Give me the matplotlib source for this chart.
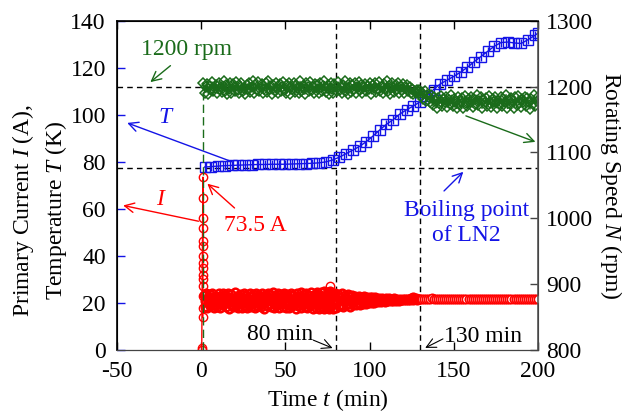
import numpy as np
import matplotlib
matplotlib.use("Agg")
import matplotlib.pyplot as plt

plt.rcParams["font.family"] = "serif"
plt.rcParams["font.serif"] = ["Liberation Serif", "DejaVu Serif"]
plt.rcParams["mathtext.fontset"] = "custom"
plt.rcParams["mathtext.rm"] = "Liberation Serif"
plt.rcParams["mathtext.it"] = "Liberation Serif:italic"
plt.rcParams["axes.unicode_minus"] = False
plt.rcParams["font.size"] = 17

RED = "#ff0000"
BLUE = "#1414e6"
GREEN = "#1a6b1a"

# Primary current I (A): start-up spike column, noisy band, settled part
I_start_t = [0.3, 0.3, 1.0, 1.0, 1.0, 1.0, 1.0, 1.0, 1.0, 1.0, 1.0, 1.0, 1.0, 1.0, 1.0, 1.0, 1.0]
I_start = [0.0, 0.8, 73.5, 64.5, 56.0, 52.0, 46.5, 44.0, 40.0, 37.0, 35.0, 32.0, 30.0, 27.0, 23.0, 18.0, 14.0]
I_band1 = [23.5, 18.2, 20.9, 24.1, 17.8, 22.0, 19.4, 23.8, 18.6, 21.5,
           24.3, 19.0, 22.6, 17.7, 20.3, 23.1, 18.4, 21.8, 24.0, 19.7,
           17.9, 22.9, 20.6, 24.4, 18.9, 21.2, 23.4, 18.1, 19.9, 22.4,
           24.2, 17.6, 21.0, 23.7, 19.2, 22.2, 18.3, 20.5, 24.5, 18.7,
           21.6, 23.0, 17.8, 20.1, 23.9, 19.5, 22.7, 18.0, 21.3, 24.1,
           18.5, 20.8, 23.3, 17.7, 22.1, 19.1, 24.3, 20.4, 18.2, 22.8,
           23.6, 19.8, 17.9, 21.7, 24.0, 18.8, 20.2, 23.2, 19.3, 22.5,
           18.1, 24.4, 21.1, 17.6, 23.5, 20.0, 22.3, 18.6, 24.2, 19.6,
           21.4, 23.8, 18.3, 20.7, 24.5, 17.8, 22.0, 19.0, 23.1, 18.9,
           22.6, 24.0, 17.7, 20.9, 23.6, 19.4, 21.9, 18.4, 24.3, 20.3,
           18.0, 22.8, 23.9, 19.2, 17.9, 21.5, 24.1, 18.7, 20.6, 23.4,
           19.8, 22.2, 17.6, 24.4, 20.1, 18.5, 23.0, 21.2, 24.6, 17.8,
           22.4, 19.5, 23.7, 18.2, 20.8, 24.2, 17.7, 21.8, 23.3, 19.1,
           18.8, 24.7, 20.4, 17.5, 22.9, 23.8, 19.7, 18.0, 24.5, 21.0,
           17.6, 23.5, 20.2, 24.8, 18.4, 22.1, 17.4, 24.9, 19.3, 23.1,
           17.7, 24.6, 21.4, 17.5, 25.0, 18.6, 24.2, 17.6, 23.8, 20.5]
I_band2 = [24.4, 17.9, 21.0, 23.6, 18.6, 22.4, 19.3, 24.0, 18.2, 20.7,
           23.2, 18.9, 21.9, 23.8, 19.5, 18.4, 22.8, 20.3, 23.4, 19.0,
           21.5, 23.0, 18.9, 22.1, 19.8, 23.1, 19.3, 20.9, 22.7, 19.6,
           22.9, 20.2, 19.5, 22.4, 21.1, 19.9, 22.6, 20.5, 19.8, 22.3,
           21.0, 20.1, 22.5, 20.6, 21.8, 20.2, 22.2, 21.3, 20.4, 22.0,
           20.8, 21.6, 20.5, 22.1, 21.0, 20.7, 21.9, 21.4, 20.8, 21.8,
           21.2, 20.9, 21.9, 21.3, 21.0, 21.7, 21.2, 20.9, 21.8, 21.4,
           21.1, 21.7, 21.3, 21.6, 21.2, 21.8, 21.4, 21.6, 21.3, 22.0,
           21.5, 22.3, 21.4, 21.7, 21.5, 21.9, 21.4, 21.8, 21.5, 21.7]
I_tail = [21.6, 21.8, 21.5, 21.7, 21.6, 21.9, 21.5, 21.7, 21.6, 21.8,
          21.5, 21.6, 21.7, 21.5, 21.8, 21.6, 21.7, 21.5, 21.6, 21.8,
          21.6, 21.5, 21.7, 21.6, 21.8, 21.5, 21.6, 21.7, 21.6, 21.5,
          21.7, 21.6, 21.6, 21.7, 21.6, 21.5, 21.8, 21.6, 21.7, 21.5,
          21.6, 21.7, 21.6, 21.8, 21.5, 21.6, 21.7, 21.6, 21.5, 21.7,
          21.6, 21.8, 21.6, 21.5, 21.7, 21.6, 21.7, 21.6]
I_out_t = [76.6]
I_out = [27.0]

# Temperature T (K)
T_t = [2, 6, 10, 14, 18, 22, 26, 30, 34, 38, 42, 46, 50, 54, 58, 62, 66, 70, 74, 78, 82, 86, 90, 94,
       98, 102, 106, 110, 114, 118, 122, 126, 130, 134, 138, 142, 146, 150, 154, 158, 162, 166, 170,
       174, 178, 182, 186, 190, 194, 198, 200]
T_val = [77.8, 78.0, 78.2, 78.4, 78.5, 78.6, 78.7, 78.8, 78.9, 78.9, 79.0, 79.0, 79.0, 79.1, 79.2,
         79.3, 79.4, 79.6, 80.0, 80.8, 82.0, 83.5, 85.0, 86.6, 88.6, 91.0, 93.6, 96.0, 98.0, 100.4,
         102.2, 103.8, 105.6, 108.2, 110.8, 113.2, 114.8, 116.4, 118.2, 120.2, 122.6, 124.8, 127.0,
         129.2, 130.8, 131.0, 130.6, 130.4, 132.0, 133.8, 134.8]

# Rotating speed N (rpm)
N_band1 = [1206, 1191, 1199, 1204, 1189, 1201, 1195, 1207, 1193, 1198,
           1203, 1190, 1205, 1196, 1200, 1192, 1208, 1194, 1202, 1189,
           1197, 1206, 1191, 1204, 1199, 1193, 1207, 1195, 1190, 1201,
           1205, 1194, 1198, 1189, 1203, 1196, 1206, 1192, 1200, 1208,
           1190, 1202, 1195, 1207, 1193, 1199, 1204, 1191, 1197, 1205,
           1192, 1208, 1196, 1201, 1189, 1203, 1194, 1206, 1198, 1190,
           1204, 1193, 1200, 1207, 1195, 1191, 1202, 1205, 1189, 1199,
           1196, 1206, 1192, 1203, 1198, 1190, 1208, 1194, 1201, 1197,
           1189, 1205, 1199, 1193, 1207, 1195, 1200, 1191, 1204, 1202,
           1197, 1190, 1206, 1194, 1201, 1208, 1192, 1198, 1203, 1189,
           1205, 1196, 1191, 1204, 1199, 1193, 1207, 1195, 1200, 1190,
           1202, 1208, 1194, 1198, 1189, 1206, 1192, 1203, 1197, 1205,
           1191, 1200, 1207, 1195, 1203, 1190, 1199, 1204, 1193, 1201,
           1196, 1206, 1189, 1202, 1198, 1205, 1192, 1197, 1207, 1194,
           1200, 1190, 1204, 1196, 1208, 1193, 1201, 1189, 1205, 1199,
           1192, 1203, 1197, 1206, 1191, 1200, 1195, 1204, 1190, 1198,
           1202, 1194, 1199, 1191, 1196, 1189, 1193, 1190, 1195, 1192]
N_band2 = [1195, 1186, 1190, 1182, 1193, 1178, 1188, 1184, 1176, 1187,
           1172, 1185, 1179, 1168, 1183, 1175, 1186, 1170, 1181, 1177,
           1184, 1169, 1180, 1174, 1187, 1171, 1182, 1176, 1167, 1185,
           1173, 1179, 1183, 1168, 1186, 1175, 1170, 1181, 1177, 1184,
           1169, 1182, 1174, 1187, 1172, 1178, 1185, 1167, 1180, 1176,
           1183, 1171, 1186, 1175, 1169, 1181, 1177, 1184, 1168, 1179,
           1174, 1185, 1170, 1182, 1176, 1188, 1167, 1180, 1173, 1183,
           1178, 1168, 1184, 1172, 1186, 1175, 1169, 1181, 1177, 1185,
           1170, 1183, 1176, 1166, 1182, 1174, 1187, 1171, 1179, 1184]

t_b1 = np.linspace(1.5, 79, len(I_band1))
t_b2 = np.linspace(79.6, 130, len(I_band2))
t_tail = np.linspace(130.8, 200, len(I_tail))
t_n1 = np.linspace(1.2, 129, len(N_band1))
t_n2 = np.linspace(129.5, 200, len(N_band2))

fig = plt.figure(figsize=(6.36, 4.18), dpi=100)
ax = fig.add_axes([0.184, 0.163, 0.662, 0.787])
ax2 = ax.twinx()

# reference lines
dash = dict(color="black", lw=1.0, ls=(0, (4, 3)), zorder=1)
ax.plot([-50, 200], [112, 112], **dash)
ax.plot([-50, 200], [77.4, 77.4], **dash)
ax.plot([80, 80], [0, 140], **dash)
ax.plot([130, 130], [0, 140], **dash)

# rpm series
ax2.plot([1.2, 1.2], [800, 1200], color=GREEN, lw=1.0, ls=(0, (6, 3)))
ax2.plot(t_n1, N_band1, color=GREEN, lw=1.0, marker="D", ms=5, mfc="none", mec=GREEN, mew=1.1)
ax2.plot(t_n2, N_band2, color=GREEN, lw=1.0, marker="D", ms=5, mfc="none", mec=GREEN, mew=1.1)

# temperature
ax.errorbar(T_t, T_val, yerr=2.0, color=BLUE, lw=1.0, marker="s", ms=7, mfc="none", mec=BLUE,
            mew=1.0, elinewidth=1.0, capsize=0, zorder=4)

# current
red_kw = dict(color=RED, lw=1.2, marker="o", ms=5.5, mfc="none", mec=RED, mew=1.8, zorder=5)
ax.plot(I_start_t, I_start, color=RED, lw=1.0, marker="o", ms=6, mfc="none", mec=RED, mew=1.0, zorder=5)
ax.plot(t_b1, I_band1, **red_kw)
ax.plot(t_b2, I_band2, **red_kw)
ax.plot(t_tail, I_tail, color=RED, lw=1.0, marker="o", ms=6, mfc="white", mec=RED, mew=1.2, zorder=5)
ax.plot(I_out_t, I_out, ls="none", marker="o", ms=6, mfc="none", mec=RED, mew=1.0, zorder=5)

ax.set_xlim(-50, 200)
ax.set_ylim(0, 140)
ax2.set_ylim(800, 1300)
ax.set_xticks([-50, 0, 50, 100, 150, 200])
ax.set_yticks(np.arange(0, 141, 20))
ax2.set_yticks(np.arange(800, 1301, 100))

ax.tick_params(axis="x", direction="in", length=6, top=True, width=1, pad=8)
ax.tick_params(axis="y", direction="in", length=6, color=BLUE, width=1, pad=8)
ax2.tick_params(axis="y", direction="in", length=6, width=1, color="#444444", pad=6)
for s in ["left", "top"]:
    ax.spines[s].set_linewidth(1.2)
ax2.spines["right"].set_color("#555555")
ax2.spines["right"].set_linewidth(1.2)
ax2.spines["bottom"].set_color("#444444")

ax.set_xlabel("Time $t$ (min)", labelpad=4)
ax.set_ylabel("Primary Current $I$ (A),\nTemperature $T$ (K)", linespacing=1.35)
ax.yaxis.set_label_coords(-0.114, 0.425)
ax2.set_ylabel("Rotating Speed $N$ (rpm)", rotation=270, labelpad=22)

# annotations
ax.annotate("", xy=(-31.5, 113.2), xytext=(-17, 121.7),
            arrowprops=dict(arrowstyle="->", color=GREEN, lw=1.0), annotation_clip=False)
ax.text(-9, 127.7, "1200 rpm", color=GREEN, ha="center", va="center")
ax.annotate("", xy=(-45.5, 97.0), xytext=(20, 79.6),
            arrowprops=dict(arrowstyle="->", color=BLUE, lw=1.0), annotation_clip=False)
ax.text(-21.5, 99.0, "T", color=BLUE, style="italic", ha="center", va="center")
ax.annotate("", xy=(-48, 61.7), xytext=(0, 54.5),
            arrowprops=dict(arrowstyle="->", color=RED, lw=1.0), annotation_clip=False)
ax.text(-24.3, 64.0, "I", color=RED, style="italic", ha="center", va="center")
ax.annotate("", xy=(2.4, 71.5), xytext=(21, 59.6),
            arrowprops=dict(arrowstyle="->", color=RED, lw=1.0))
ax.text(32, 53.0, "73.5 A", color=RED, ha="center", va="center")
ax.annotate("", xy=(156.8, 76.6), xytext=(143, 66.8),
            arrowprops=dict(arrowstyle="->", color=BLUE, lw=1.0))
ax.text(157.4, 54.0, "Boiling point\nof LN2", color=BLUE, ha="center", va="center", linespacing=1.25)
ax.annotate("", xy=(200, 88.1), xytext=(155.6, 100),
            arrowprops=dict(arrowstyle="->", color=GREEN, lw=1.0), annotation_clip=False)
ax.annotate("", xy=(79.5, 0.3), xytext=(65, 4.6),
            arrowprops=dict(arrowstyle="->", color="black", lw=0.8))
ax.text(47, 6.4, "80 min", color="black", ha="center", va="center")
ax.annotate("", xy=(131.5, 0.3), xytext=(145, 5.2),
            arrowprops=dict(arrowstyle="->", color="black", lw=0.8))
ax.text(167.5, 5.6, "130 min", color="black", ha="center", va="center")

fig.savefig("out.png", dpi=100)
